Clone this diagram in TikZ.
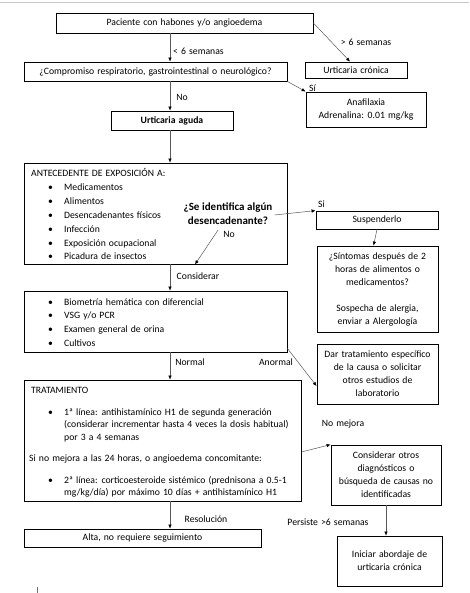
\documentclass[tikz,border=0pt]{standalone}
\usepackage{fontspec}
\setmainfont{Carlito}
\usetikzlibrary{arrows.meta,calc}
\newcommand\fs{\fontsize{9.7}{13}\selectfont\spaceskip=3.1pt plus 1pt minus 0.5pt\relax}
\newcommand\fq{\fontsize{11}{14}\selectfont\bfseries\spaceskip=2.6pt\relax}
\newcommand\fl{\fontsize{9.7}{13.8}\selectfont\spaceskip=3.1pt plus 1pt minus 0.5pt\relax}
\newcommand\ft{\fontsize{9.7}{12.7}\selectfont\spaceskip=3.1pt plus 1pt minus 0.5pt\relax}
\begin{document}
\begin{tikzpicture}[x=1pt,y=-1pt,font=\fs,
  box/.style={draw=black,line width=0.8pt,inner sep=0pt,align=center},
  arr/.style={draw=black!65,line width=0.5pt,-{Latex[length=4pt,width=3.5pt,color=black]}},
  lbl/.style={inner sep=0pt},
  txt/.style={inner sep=0pt,anchor=base west,align=left}]
\useasboundingbox (0,0) rectangle (469,593);
\fill[white] (0,0) rectangle (469,593);
\draw[black!22,line width=0.8pt] (0,2) -- (469,2);
\draw[black!55,line width=0.8pt] (37,587) -- (37,593);

\coordinate (ax) at (170,0);

% boxes
\node[box,minimum width=257pt,minimum height=20pt] (p) at (184.5,23) {Paciente con habones y/o angioedema};
\node[box,minimum width=263pt,minimum height=19pt] (c) at (155.5,71.5) {¿Compromiso respiratorio, gastrointestinal o neurológico?};
\node[box,minimum width=102pt,minimum height=16pt] (uc) at (356,70) {Urticaria crónica};
\node[box,minimum width=120pt,minimum height=35pt] (an) at (366,109.5) {Anafilaxia\\Adrenalina: 0.01 mg/kg};
\node[box,minimum width=122pt,minimum height=19pt,font=\fs\bfseries] (ua) at (172,120.5) {Urticaria aguda};
\node[box,minimum width=263pt,minimum height=101pt] (ant) at (155.5,213.5) {};
\node[box,minimum width=122pt,minimum height=18pt] (su) at (377,220) {Suspenderlo};
\node[box,minimum width=121pt,minimum height=86pt] (si) at (377.5,289) {¿Síntomas después de 2\\horas de alimentos o\\medicamentos?\\[13pt]Sospecha de alergia,\\enviar a Alergología};
\node[box,minimum width=263pt,minimum height=61pt] (bio) at (155.5,321.5) {};
\node[box,minimum width=121pt,minimum height=60pt] (dar) at (377.5,374) {Dar tratamiento específico\\de la causa o solicitar\\otros estudios de\\laboratorio};
\node[box,minimum width=277pt,minimum height=121pt] (tr) at (162.5,440.5) {};
\node[box,minimum width=110pt,minimum height=60pt] (co) at (386,475) {Considerar otros\\diagnósticos o\\búsqueda de causas no\\identificadas};
\node[box,minimum width=237pt,minimum height=18pt] (al) at (142.5,538) {Alta, no requiere seguimiento};
\node[box,minimum width=105pt,minimum height=50pt] (in) at (389.5,561) {Iniciar abordaje de\\urticaria crónica};

% texts inside list boxes
\node[txt] (anth) at (31,177) {ANTECEDENTE DE EXPOSICIÓN A:};
\node[txt] (antl) at (48,191) {\fl\begin{tabular}[t]{@{}p{16pt}@{}l@{}}
\textbullet & Medicamentos\\
\textbullet & Alimentos\\
\textbullet & Desencadenantes físicos\\
\textbullet & Infección\\
\textbullet & Exposición ocupacional\\
\textbullet & Picadura de insectos
\end{tabular}};
\node[inner sep=1pt,font=\fq,align=center] (q) at (228,214) {¿Se identifica algún\\desencadenante?};

\node[txt] (biol) at (48,305) {\fl\begin{tabular}[t]{@{}p{16pt}@{}l@{}}
\textbullet & Biometría hemática con diferencial\\
\textbullet & VSG y/o PCR\\
\textbullet & Examen general de orina\\
\textbullet & Cultivos
\end{tabular}};

\node[txt] (trh) at (31,393) {TRATAMIENTO};
\node[txt] (tr1) at (48,415) {\ft\begin{tabular}[t]{@{}p{16pt}@{}l@{}}
\textbullet & 1ª línea: antihistamínico H1 de segunda generación\\
 & (considerar incrementar hasta 4 veces la dosis habitual)\\
 & por 3 a 4 semanas
\end{tabular}};
\node[txt] (tr2) at (29,461) {Si no mejora a las 24 horas, o angioedema concomitante:};
\node[txt] (tr3) at (48,483) {\ft\begin{tabular}[t]{@{}p{16pt}@{}l@{}}
\textbullet & 2ª línea: corticoesteroide sistémico (prednisona a 0.5-1\\
 & mg/kg/día) por máximo 10 días + antihistamínico H1
\end{tabular}};

% connectors
\draw[arr] (ax |- p.south) -- (ax |- c.north);
\node[lbl,anchor=west] (l1) at (173,51) {< 6 semanas};
\draw[arr] (p.east) -- ($(uc.north)+(-6,0)$);
\node[lbl] (l2) at (366,42) {> 6 semanas};
\draw[arr] (c.south east) -- (an.north west);
\node[lbl,anchor=west] (l3) at (309,88) {Sí};
\draw[arr] (ax |- c.south) -- (ax |- ua.north);
\node[lbl] (l4) at (182,97) {No};
\draw[arr] (ax |- ua.south) -- (ax |- ant.north);
\draw[arr] ($(q.east)+(1,1)$) -- (su.north west);
\node[lbl,anchor=west] (l5) at (318,204) {Si};
\draw[arr] ($(q.south)+(-10,4)$) -- ($(ant.south)+(39.5,0)$);
\node[lbl] (l6) at (229,234) {No};
\draw[arr] (su.south) -- ($(si.north)+(-4,0)$);
\draw[arr] (ax |- ant.south) -- (ax |- bio.north);
\node[lbl] (l7) at (198,276) {Considerar};
\draw[arr] ($(bio.south east)+(0,-4)$) -- ($(dar.west)+(0,12)$);
\node[lbl] (l8) at (276,362) {Anormal};
\draw[arr] (ax |- bio.south) -- (ax |- tr.north);
\node[lbl] (l9) at (190,362) {Normal};
\draw[arr] ($(tr.east)+(0,11.5)$) -- (co.north west);
\node[lbl] (l10) at (343,424) {No mejora};
\draw[arr] (ax |- tr.south) -- (ax |- al.north);
\node[lbl] (l11) at (206,519) {Resolución};
\draw[arr] (co.south) -- (co.south |- in.north);
\node[lbl] (l12) at (328,522) {Persiste >6 semanas};
\end{tikzpicture}
\end{document}
